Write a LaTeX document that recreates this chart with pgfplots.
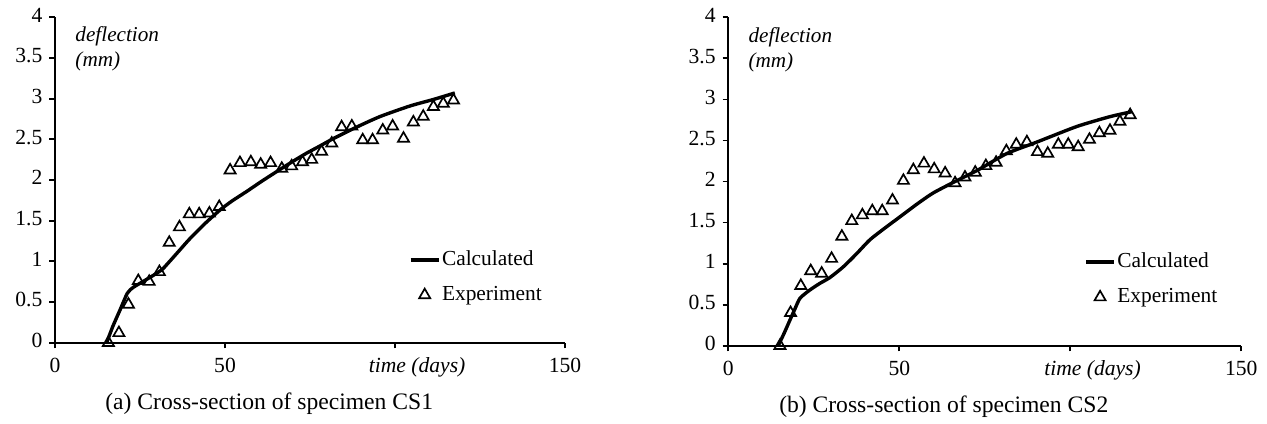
\documentclass[border=0pt]{standalone}
\usepackage{fontspec}
\setmainfont{Liberation Serif}
\usepackage{pgfplots}
\pgfplotsset{compat=1.18}

\pgfplotsset{
  defl/.style={
    scale only axis,
    xmin=0,xmax=150,ymin=0,ymax=4,
    axis lines=left,
    axis line style={line width=0.9pt,-},
    tick align=outside,
    major tick length=2.8pt,
    tick style={line width=0.9pt,black},
    xtick={0,50,100,150},
    xticklabels={0,50,,150},
    extra x ticks={106.5},
    extra x tick labels={\textit{time (days)}},
    extra x tick style={tick style={draw=none}},
    typeset ticklabels with strut,
    ytick={0,0.5,1,1.5,2,2.5,3,3.5,4},
    yticklabels={0,0.5,1,1.5,2,2.5,3,3.5,4},
    tick label style={font=\fontsize{10.8}{12}\selectfont},
    clip=false,
    legend style={draw=none,fill=none,inner sep=0pt,
      at={(axis cs:104,1.15)}, anchor=north west,
      font=\fontsize{10.7}{12}\selectfont, row sep=7pt,
      nodes={inner xsep=0.8pt, inner ysep=0pt, text height=8pt, text depth=2.5pt}},
    legend cell align=left,
  },
  calc/.style={black, line width=1.7pt, no marks, smooth, tension=0.4,
    legend image code/.code={\draw[##1] (0pt,0pt) -- (14pt,0pt);}},
  expt/.style={only marks, mark=triangle, mark size=3.2pt,
    mark options={line width=0.85pt, black, fill=white},
    legend image code/.code={\draw[mark repeat=2,mark phase=2,##1] plot coordinates {(0pt,0pt)(7pt,0pt)(14pt,0pt)};}},
}

\begin{document}
\begin{tikzpicture}
\useasboundingbox (-27.5pt,-40.15pt) rectangle (606pt,171.35pt);

\begin{axis}[defl, width=255pt, height=162.7pt, at={(0pt,0pt)}, anchor=south west]
\addplot[calc] coordinates {
(15.2,0) (17.0,0.2) (19.1,0.40) (21.3,0.61) (23,0.68) (25,0.73) (29,0.83) (31.5,0.90)
(33.3,0.98) (36.5,1.13) (39.7,1.28) (44,1.46) (48.5,1.63) (52,1.74) (56.4,1.86) (61,1.99)
(66.2,2.13) (70,2.23) (74,2.33) (78,2.42) (81.9,2.51) (88.7,2.65) (95.6,2.78) (104.4,2.91)
(111.3,2.99) (117.6,3.07)
};
\addlegendentry{Calculated}
\addplot[expt] coordinates {
(15.7,0) (18.8,0.12) (21.6,0.47) (24.5,0.76) (27.7,0.75) (30.7,0.87) (33.6,1.23) (36.6,1.42)
(39.5,1.58) (42.4,1.58) (45.4,1.59) (48.3,1.67) (51.5,2.12) (54.4,2.21) (57.6,2.22) (60.5,2.19)
(63.4,2.21) (66.7,2.14) (69.6,2.17) (72.8,2.22) (75.5,2.25) (78.4,2.35) (81.4,2.45) (84.3,2.65)
(87.3,2.66) (90.5,2.49) (93.4,2.49) (96.4,2.61) (99.3,2.66) (102.5,2.51) (105.4,2.71) (108.3,2.78)
(111.3,2.90) (114.2,2.94) (117.2,2.98)
};
\addlegendentry{Experiment}
\node[anchor=west, inner sep=0pt, align=left, font=\itshape\fontsize{10.6}{12.5}\selectfont] at (axis cs:5.9,3.61) {deflection\\(mm)};
\node[font=\fontsize{11.8}{13}\selectfont] at (axis cs:63,0) [yshift=-30.5pt] {(a) Cross-section of specimen CS1};
\end{axis}

\begin{axis}[defl, width=256.5pt, height=164.2pt, at={(336.65pt,-1.5pt)}, anchor=south west]
\addplot[calc] coordinates {
(14.6,0) (16.3,0.15) (18.0,0.31) (19.5,0.45) (21.0,0.58) (23.9,0.68) (26.8,0.76) (29.7,0.83)
(33.6,0.96) (37.5,1.12) (41.4,1.29) (46,1.44) (50.2,1.57) (55,1.72) (59.9,1.86) (66.3,2.00)
(73,2.14) (81.4,2.34) (90.2,2.48) (101.9,2.67) (111.6,2.79) (118,2.85)
};
\addlegendentry{Calculated}
\addplot[expt] coordinates {
(15.1,0) (18.2,0.40) (21.2,0.73) (24.1,0.91) (27.3,0.88) (30.2,1.06) (33.2,1.33) (36.1,1.52)
(39.2,1.59) (42.1,1.64) (45.0,1.64) (48.0,1.77) (51.2,2.01) (54.1,2.14) (57.2,2.22) (60.2,2.15)
(63.4,2.10) (66.3,1.98) (69.2,2.05) (72.2,2.11) (75.3,2.19) (78.3,2.23) (81.3,2.37) (84.2,2.45)
(87.3,2.48) (90.4,2.36) (93.4,2.34) (96.5,2.45) (99.4,2.45) (102.3,2.42) (105.6,2.51) (108.5,2.59)
(111.6,2.62) (114.5,2.73) (117.5,2.81)
};
\addlegendentry{Experiment}
\node[anchor=west, inner sep=0pt, align=left, font=\itshape\fontsize{10.6}{12.5}\selectfont] at (axis cs:5.8,3.61) {deflection\\(mm)};
\node[font=\fontsize{11.8}{13}\selectfont] at (axis cs:63,0) [yshift=-30.5pt] {(b) Cross-section of specimen CS2};
\end{axis}
\end{tikzpicture}
\end{document}
